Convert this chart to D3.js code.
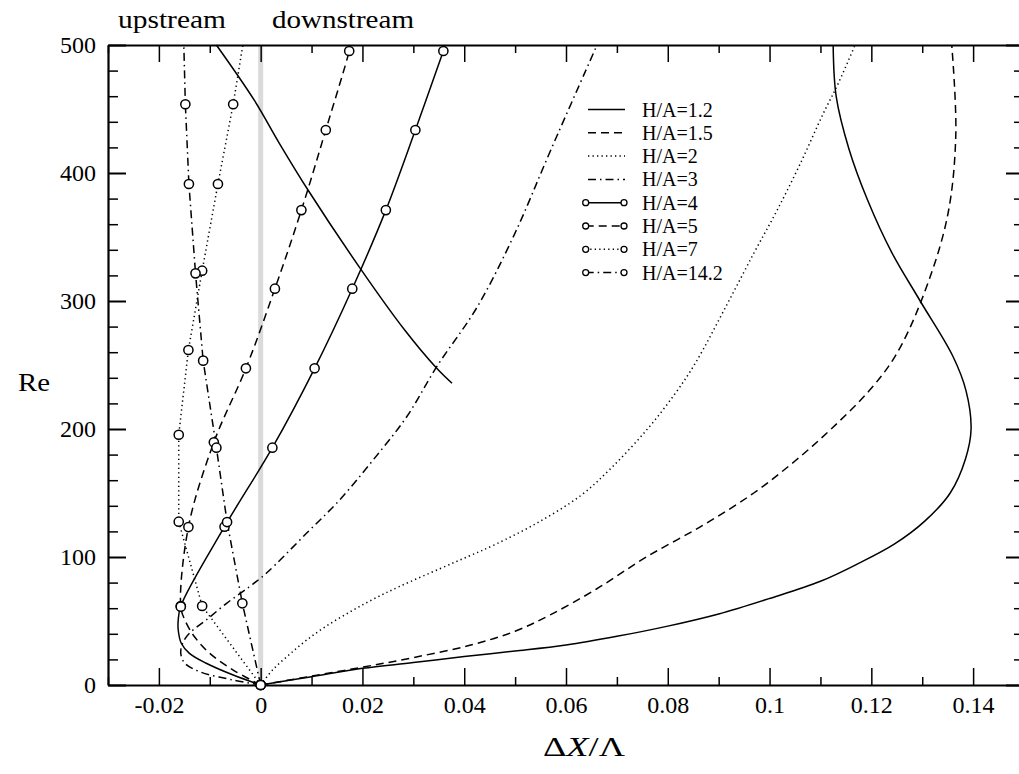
<!DOCTYPE html>
<html>
<head>
<meta charset="utf-8">
<script src="https://cdn.jsdelivr.net/npm/d3@7"></script>
<style>
  html, body { margin: 0; padding: 0; background: #fff; }
  svg { display: block; }
  text { font-family: "Liberation Serif", "Times New Roman", serif; fill: #000; }
</style>
</head>
<body>
<svg id="chart" width="1019" height="774"></svg>
<script>
// ---- data: each series is a list of [ΔX/Λ, Re] pairs ----
const ha12 = [[0,0],[0.01,6.5],[0.02,13],[0.03,17.5],[0.04,22.3],[0.05,26.5],[0.06,31.2],[0.07,38],[0.08,46],[0.09,55.5],[0.10,67.6],[0.11,81],[0.1175,95],[0.1245,110],[0.1305,128],[0.1355,150],[0.1385,176.6],[0.1396,200],[0.1386,230],[0.136,257],[0.1296,300],[0.124,338],[0.1193,378.5],[0.1156,418.8],[0.1131,459.6],[0.1125,500]];
const ha12Upper = [[0.0376,235.7],[0.0346,247.4],[0.0283,277.3],[0.0197,324.7],[0.0093,386.7],[0.0037,423],[-0.0012,456.5],[-0.0087,500]];
const ha15 = [[0,0],[0.0101,7],[0.0201,14],[0.0301,21.5],[0.0411,31],[0.05,42],[0.057,55],[0.066,75],[0.0758,100],[0.087,125],[0.0969,150],[0.105,175],[0.1121,200],[0.1196,230],[0.1247,257],[0.1298,300],[0.1349,365],[0.1366,430],[0.1358,500]];
const ha2 = [[0,0],[0.0024,12],[0.0057,24],[0.009,35],[0.0129,46],[0.0175,57],[0.0221,67],[0.0273,77],[0.0353,91],[0.0411,101],[0.0462,110],[0.0545,127],[0.0629,148],[0.069,170],[0.076,200],[0.0815,228],[0.0855,252],[0.0916,297],[0.097,338],[0.1015,371],[0.106,407],[0.1105,446],[0.1135,470],[0.1168,500]];
const ha3 = [[0,0],[-0.0054,3.9],[-0.012,10.4],[-0.0149,17],[-0.0157,24.7],[-0.0153,33],[-0.014,40.4],[-0.0107,50.8],[-0.0067,63.8],[-0.0022,76.8],[0.0011,87.3],[0.009,118.5],[0.0155,144.5],[0.0221,175.8],[0.0287,209.6],[0.0346,248.7],[0.0425,295],[0.0498,351.5],[0.0571,418.8],[0.0661,500]];
const ha4 = [[0,0],[-0.0054,7.8],[-0.0107,17],[-0.014,24.7],[-0.0156,32.6],[-0.0162,43],[-0.0162,50.8],[-0.0157,61.7],[-0.0071,123.7],[0.0023,185.4],[0.0106,247.4],[0.018,309.6],[0.0246,371],[0.0304,433.6],[0.0359,495.3],[0.0363,500]];
const ha4Marks = [[0,0],[-0.0157,61.7],[-0.0071,123.7],[0.0023,185.4],[0.0106,247.4],[0.018,309.6],[0.0246,371],[0.0304,433.6],[0.0359,495.3]];
const ha5 = [[0,0],[-0.0054,11.7],[-0.01,24.7],[-0.013,37.7],[-0.0149,50.8],[-0.0157,61.2],[-0.0142,123.4],[-0.0092,189.6],[-0.0029,247.4],[0.0028,309.6],[0.008,371],[0.0128,433.6],[0.0174,495.3],[0.0176,500]];
const ha5Marks = [[0,0],[-0.0157,61.2],[-0.0142,123.4],[-0.0092,189.6],[-0.0029,247.4],[0.0028,309.6],[0.008,371],[0.0128,433.6],[0.0174,495.3]];
const ha7 = [[0,0],[-0.0115,61.7],[-0.0161,127.6],[-0.0161,195.5],[-0.0142,261.7],[-0.0115,323.7],[-0.0084,391.4],[-0.0054,453.7],[-0.0035,500]];
const ha7Marks = [[0,0],[-0.0115,61.7],[-0.0161,127.6],[-0.0161,195.5],[-0.0142,261.7],[-0.0115,323.7],[-0.0084,391.4],[-0.0054,453.7]];
const ha142 = [[0,0],[-0.0036,63.8],[-0.0066,127.3],[-0.0087,185.4],[-0.0113,253.4],[-0.0128,321.6],[-0.0141,391.4],[-0.0148,453.7],[-0.0151,500]];
const ha142Marks = [[0,0],[-0.0036,63.8],[-0.0066,127.3],[-0.0087,185.4],[-0.0113,253.4],[-0.0128,321.6],[-0.0141,391.4],[-0.0148,453.7]];

const seriesNames = ["H/A=1.2","H/A=1.5","H/A=2","H/A=3","H/A=4","H/A=5","H/A=7","H/A=14.2"];
const xTickValues = [-0.02,0,0.02,0.04,0.06,0.08,0.1,0.12,0.14];
const xMinorValues = [-0.03,-0.01,0.01,0.03,0.05,0.07,0.09,0.11,0.13,0.15];
const yTickValues = [0,100,200,300,400,500];
const yMinorValues = [20,40,60,80,120,140,160,180,220,240,260,280,320,340,360,380,420,440,460,480];

// ---- layout ----
const svg = d3.select("#chart");
const plotLeft = 108, plotRight = 1024, plotTop = 45, plotBottom = 685;
const x = d3.scaleLinear().domain([-0.03, 0.15]).range([plotLeft, plotRight]);
const y = d3.scaleLinear().domain([0, 500]).range([plotBottom, plotTop]);

const DASH = "8,5", DOT = "1.3,3.2", DASHDOT = "8,4,1.5,4";

// light vertical band at zero separating upstream and downstream
svg.append("rect")
  .attr("x", x(0) - 2.5).attr("y", plotTop)
  .attr("width", 5).attr("height", plotBottom - plotTop)
  .attr("fill", "#dadada");

// ---- axes (ticks point into the plot on all four sides) ----
function styleAxis(g, w) {
  g.select(".domain").attr("stroke", "#000").attr("stroke-width", 2.2);
  g.selectAll(".tick line").attr("stroke", "#000").attr("stroke-width", w);
}
function minorStyle(g) {
  g.select(".domain").remove();
  g.selectAll(".tick line").attr("stroke", "#000").attr("stroke-width", 1.5);
}
const fmtX = d => d === 0 ? "0" : String(+d.toFixed(2));

const xAxisB = svg.append("g").attr("transform", `translate(0,${plotBottom})`)
  .call(d3.axisBottom(x).tickValues(xTickValues).tickSizeInner(-17).tickSizeOuter(0).tickPadding(11).tickFormat(fmtX));
styleAxis(xAxisB, 1.5);
xAxisB.selectAll("text").attr("font-size", 24).attr("font-family", "Liberation Serif");
svg.append("g").attr("transform", `translate(0,${plotBottom})`)
  .call(d3.axisBottom(x).tickValues(xMinorValues).tickSizeInner(-8).tickSizeOuter(0).tickFormat(""))
  .call(minorStyle);

const xAxisT = svg.append("g").attr("transform", `translate(0,${plotTop})`)
  .call(d3.axisTop(x).tickValues(xTickValues).tickSizeInner(-17).tickSizeOuter(0).tickFormat(""));
styleAxis(xAxisT, 1.5);
svg.append("g").attr("transform", `translate(0,${plotTop})`)
  .call(d3.axisTop(x).tickValues(xMinorValues).tickSizeInner(-8).tickSizeOuter(0).tickFormat(""))
  .call(minorStyle);

const yAxisL = svg.append("g").attr("transform", `translate(${plotLeft},0)`)
  .call(d3.axisLeft(y).tickValues(yTickValues).tickSizeInner(-18).tickSizeOuter(0).tickPadding(12));
styleAxis(yAxisL, 2);
yAxisL.selectAll("text").attr("font-size", 24).attr("font-family", "Liberation Serif");
svg.append("g").attr("transform", `translate(${plotLeft},0)`)
  .call(d3.axisLeft(y).tickValues(yMinorValues).tickSizeInner(-10).tickSizeOuter(0).tickFormat(""))
  .call(minorStyle);

const yAxisR = svg.append("g").attr("transform", `translate(${plotRight},0)`)
  .call(d3.axisRight(y).tickValues(yTickValues).tickSizeInner(-18).tickSizeOuter(0).tickFormat(""));
styleAxis(yAxisR, 2);
svg.append("g").attr("transform", `translate(${plotRight},0)`)
  .call(d3.axisRight(y).tickValues(yMinorValues).tickSizeInner(-10).tickSizeOuter(0).tickFormat(""))
  .call(minorStyle);

// ---- curves ----
const smooth = d3.line().x(d => x(d[0])).y(d => y(d[1])).curve(d3.curveCatmullRom.alpha(0.5));
const poly = d3.line().x(d => x(d[0])).y(d => y(d[1]));

const plotG = svg.append("g");
function drawCurve(data, dash, gen) {
  plotG.append("path").datum(data)
    .attr("d", gen || smooth)
    .attr("fill", "none").attr("stroke", "#000").attr("stroke-width", 1.5)
    .attr("stroke-dasharray", dash || null);
}
drawCurve(ha12, null);
drawCurve(ha12Upper, null);
drawCurve(ha15, DASH);
drawCurve(ha2, DOT);
drawCurve(ha3, DASHDOT);
drawCurve(ha4, null);
drawCurve(ha5, DASH);
drawCurve(ha7, DOT, poly);
drawCurve(ha142, DASHDOT, poly);

function drawMarks(data) {
  plotG.selectAll(null).data(data).enter().append("circle")
    .attr("cx", d => x(d[0])).attr("cy", d => y(d[1])).attr("r", 4.6)
    .attr("fill", "#fff").attr("stroke", "#000").attr("stroke-width", 1.5);
}
drawMarks(ha4Marks);
drawMarks(ha5Marks);
drawMarks(ha7Marks);
drawMarks(ha142Marks);

// ---- legend ----
const legendStyles = [
  {dash: null, mark: false}, {dash: DASH, mark: false}, {dash: DOT, mark: false}, {dash: DASHDOT, mark: false},
  {dash: null, mark: true}, {dash: DASH, mark: true}, {dash: DOT, mark: true}, {dash: DASHDOT, mark: true}
];
const legend = svg.append("g");
seriesNames.forEach((name, i) => {
  const ly = 109.5 + i * 23.3;
  const st = legendStyles[i];
  const x0 = st.mark ? 585.7 : 588, x1 = st.mark ? 624 : 625;
  legend.append("line").attr("x1", x0).attr("x2", x1).attr("y1", ly).attr("y2", ly)
    .attr("stroke", "#000").attr("stroke-width", 1.5).attr("stroke-dasharray", st.dash);
  if (st.mark) {
    [x0, x1].forEach(cx => legend.append("circle").attr("cx", cx).attr("cy", ly).attr("r", 3)
      .attr("fill", "#fff").attr("stroke", "#000").attr("stroke-width", 1.3));
  }
  legend.append("text").attr("x", 642).attr("y", ly).attr("dy", "0.35em")
    .attr("font-size", 20).text(name);
});

// ---- titles (set in a wider face, so stretched to their measured widths) ----
svg.append("text").attr("x", 118).attr("y", 28).attr("font-size", 26)
  .attr("textLength", 108).attr("lengthAdjust", "spacingAndGlyphs").text("upstream");
svg.append("text").attr("x", 272).attr("y", 28).attr("font-size", 26)
  .attr("textLength", 142).attr("lengthAdjust", "spacingAndGlyphs").text("downstream");
svg.append("text").attr("x", 18).attr("y", 391).attr("font-size", 25)
  .attr("textLength", 32).attr("lengthAdjust", "spacingAndGlyphs").text("Re");

const xl = svg.append("text").attr("x", 543).attr("y", 756).attr("font-size", 28)
  .attr("textLength", 82).attr("lengthAdjust", "spacingAndGlyphs");
xl.append("tspan").text("Δ");
xl.append("tspan").attr("font-style", "italic").text("X");
xl.append("tspan").text("/Λ");
</script>
</body>
</html>
